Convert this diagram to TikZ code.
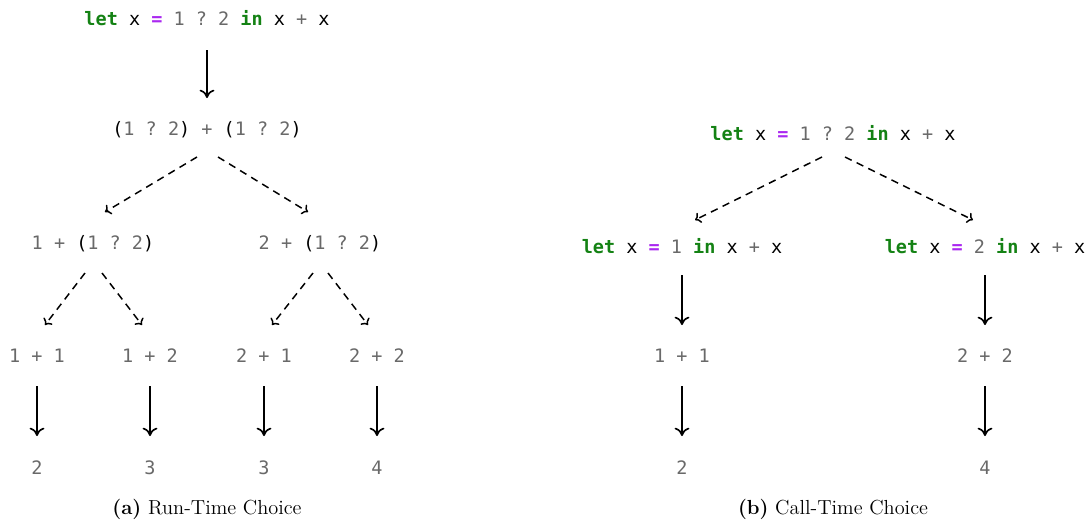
\documentclass[tikz,border=0pt]{standalone}
\usepackage{fontspec}
\setmonofont{DejaVu Sans Mono}
\usetikzlibrary{calc,arrows.meta}

\definecolor{kwgreen}{RGB}{20,130,20}
\definecolor{eqpurple}{RGB}{170,40,240}
\definecolor{litgray}{RGB}{105,105,105}

\newcommand{\kw}[1]{\textcolor{kwgreen}{\textbf{#1}}}
\newcommand{\eqs}{\textcolor{eqpurple}{\textbf{=}}}
\newcommand{\lit}[1]{\textcolor{litgray}{#1}}

\tikzset{
  expr/.style={font=\ttfamily, inner sep=2pt},
  step arrow/.style={-{To[length=4.5pt,width=8pt]}, line width=0.9pt},
  choice arrow/.style={-{To[length=3pt,width=6pt]}, dash pattern=on 4pt off 3pt, line width=0.8pt},
  caption/.style={font=\rmfamily\fontsize{11}{13}\selectfont},
}

\begin{document}
\begin{tikzpicture}[x=0.019cm, y=-0.019cm]
  \useasboundingbox (0,0) rectangle (1090,525);

  % -- (a) run-time choice --
  \node[expr] (rt) at (207,18) {\kw{let} x \eqs{} \lit{1 ? 2} \kw{in} x \lit{+} x};
  \node[expr] (rs) at (207,130) {(\lit{1 ? 2}) \lit{+} (\lit{1 ? 2})};
  \node[expr] (rl) at (93,244) {\lit{1 +} (\lit{1 ? 2})};
  \node[expr] (rr) at (320,244) {\lit{2 +} (\lit{1 ? 2})};
  \node[expr] (r11) at (37,356) {\lit{1 + 1}};
  \node[expr] (r12) at (150,356) {\lit{1 + 2}};
  \node[expr] (r21) at (264,356) {\lit{2 + 1}};
  \node[expr] (r22) at (377,356) {\lit{2 + 2}};
  \node[expr] (v11) at (37,468) {\lit{2}};
  \node[expr] (v12) at (150,468) {\lit{3}};
  \node[expr] (v21) at (264,468) {\lit{3}};
  \node[expr] (v22) at (377,468) {\lit{4}};

  \draw[step arrow] ($(rt)+(0,32)$) -- ($(rs)+(0,-32)$);
  \draw[choice arrow] ($(rs)+(-10,27)$) -- ($(rl)+(12,-32)$);
  \draw[choice arrow] ($(rs)+(11,27)$) -- ($(rr)+(-12,-32)$);
  \draw[choice arrow] ($(rl)+(-8,29)$) -- ($(r11)+(8,-31)$);
  \draw[choice arrow] ($(rl)+(9,29)$) -- ($(r12)+(-8,-31)$);
  \draw[choice arrow] ($(rr)+(-7,29)$) -- ($(r21)+(8,-31)$);
  \draw[choice arrow] ($(rr)+(8,29)$) -- ($(r22)+(-9,-31)$);
  \foreach \a/\b in {r11/v11, r12/v12, r21/v21, r22/v22}
    \draw[step arrow] ($(\a)+(0,30)$) -- ($(\b)+(0,-32)$);

  \node[caption] (capa) at (207,509) {\textbf{(a)} Run-Time Choice};

  % -- (b) call-time choice --
  \node[expr] (ct) at (833,133) {\kw{let} x \eqs{} \lit{1 ? 2} \kw{in} x \lit{+} x};
  \node[expr] (cl) at (682,246) {\kw{let} x \eqs{} \lit{1} \kw{in} x \lit{+} x};
  \node[expr] (cr) at (985,246) {\kw{let} x \eqs{} \lit{2} \kw{in} x \lit{+} x};
  \node[expr] (c11) at (682,356) {\lit{1 + 1}};
  \node[expr] (c22) at (985,356) {\lit{2 + 2}};
  \node[expr] (w11) at (682,468) {\lit{2}};
  \node[expr] (w22) at (985,468) {\lit{4}};

  \draw[choice arrow] ($(ct)+(-11,24)$) -- ($(cl)+(13,-26)$);
  \draw[choice arrow] ($(ct)+(12,24)$) -- ($(cr)+(-12,-26)$);
  \draw[step arrow] ($(cl)+(0,29)$) -- ($(c11)+(0,-31)$);
  \draw[step arrow] ($(cr)+(0,29)$) -- ($(c22)+(0,-31)$);
  \draw[step arrow] ($(c11)+(0,30)$) -- ($(w11)+(0,-32)$);
  \draw[step arrow] ($(c22)+(0,30)$) -- ($(w22)+(0,-32)$);

  \node[caption] (capb) at (833,509) {\textbf{(b)} Call-Time Choice};
\end{tikzpicture}
\end{document}
